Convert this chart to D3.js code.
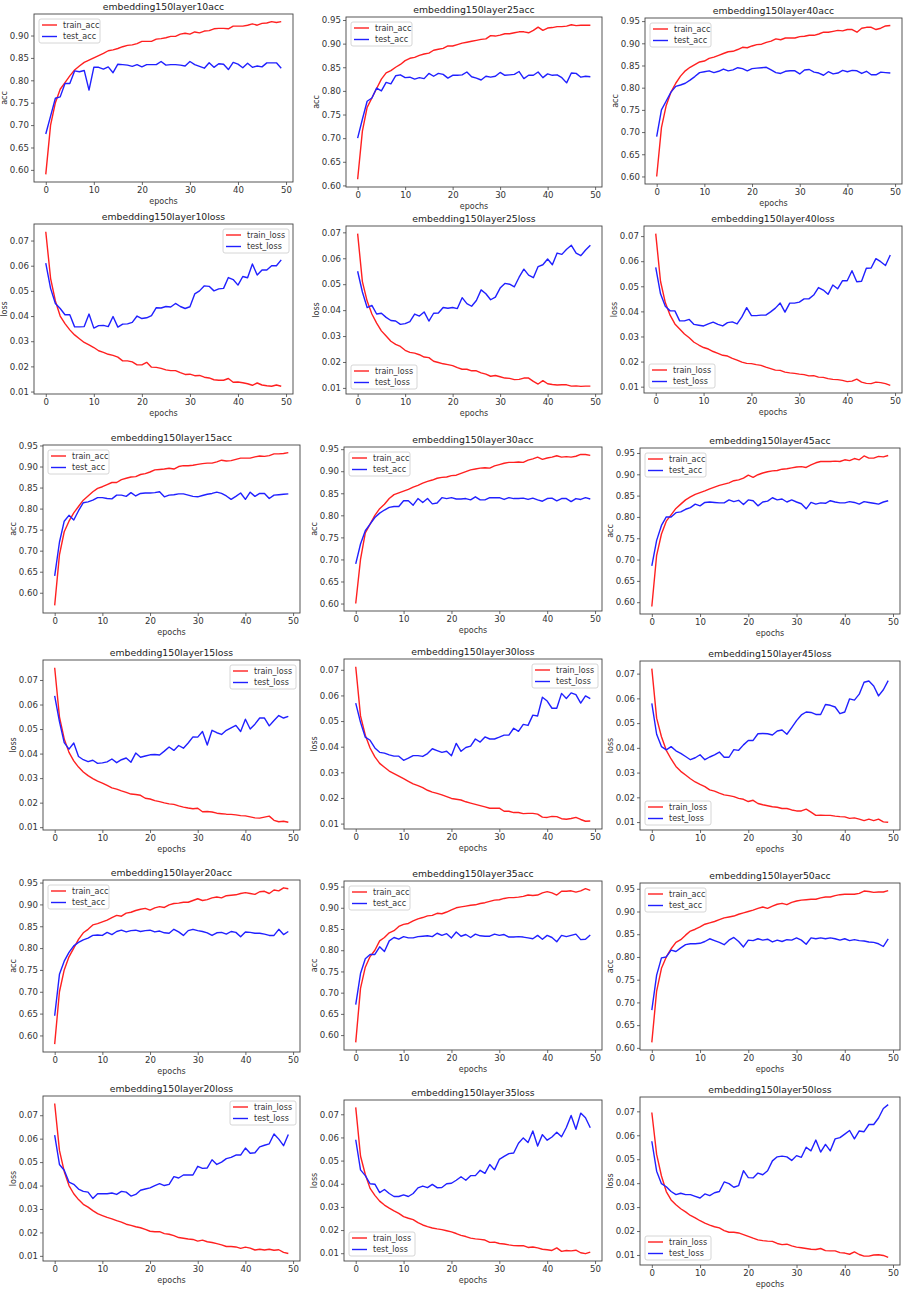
<!DOCTYPE html>
<html lang="en">
<head>
<meta charset="UTF-8">
<title>embedding150 layer acc / loss</title>
<script src="https://d3js.org/d3.v7.min.js"></script>
<style>
    body { margin: 0; background: #fff; }
    svg { display: block; font-family: "DejaVu Sans", sans-serif; }
    .frame { fill: none; stroke: #444; stroke-width: 0.9; }
    .axis .domain { display: none; }
    .axis line { stroke: #444; stroke-width: 0.8; }
    .axis text { fill: #333; font-size: 8.6px; font-family: "DejaVu Sans", sans-serif; }
    .title { font-size: 9.3px; fill: #222; text-anchor: middle; }
    .axis-label { font-size: 8px; fill: #333; text-anchor: middle; }
    .legend-box { fill: #fff; stroke: #ccc; stroke-width: 0.8; }
    .legend text { font-size: 8px; fill: #333; }
    .series { fill: none; stroke-width: 1.4; stroke-linejoin: round; }
</style>
</head>
<body>
<svg id="chart" width="906" height="1291"></svg>
<script>
// 軸の目盛り
const epochTicks = [0, 10, 20, 30, 40, 50];
const accTicks = [0.60, 0.65, 0.70, 0.75, 0.80, 0.85, 0.90, 0.95];
const lossTicks = [0.01, 0.02, 0.03, 0.04, 0.05, 0.06, 0.07];
const epochs = d3.range(50);

// layer10
const train_acc_10 = [0.590,0.700,0.750,0.780,0.795,0.810,0.823,0.832,0.840,0.845,
    0.850,0.855,0.860,0.866,0.868,0.871,0.875,0.878,0.879,0.882,
    0.887,0.887,0.887,0.892,0.893,0.895,0.898,0.898,0.903,0.905,
    0.903,0.908,0.906,0.910,0.911,0.915,0.916,0.916,0.915,0.921,
    0.921,0.921,0.923,0.926,0.923,0.927,0.928,0.931,0.929,0.931];
const test_acc_10 = [0.680,0.720,0.760,0.763,0.793,0.793,0.821,0.819,0.822,0.778,
    0.829,0.829,0.825,0.830,0.817,0.836,0.835,0.834,0.831,0.835,
    0.830,0.835,0.835,0.835,0.842,0.834,0.835,0.835,0.834,0.832,
    0.842,0.835,0.831,0.827,0.839,0.829,0.837,0.836,0.824,0.840,
    0.836,0.828,0.838,0.829,0.832,0.830,0.839,0.839,0.839,0.827];
const train_loss_10 = [0.0735,0.0550,0.0460,0.0400,0.0370,0.0345,0.0325,0.0310,0.0295,0.0285,
    0.0275,0.0262,0.0256,0.0248,0.0244,0.0237,0.0222,0.0222,0.0218,0.0206,
    0.0206,0.0216,0.0197,0.0196,0.0192,0.0186,0.0183,0.0183,0.0175,0.0168,
    0.0169,0.0163,0.0164,0.0157,0.0154,0.0147,0.0145,0.0145,0.0152,0.0137,
    0.0138,0.0135,0.0131,0.0125,0.0134,0.0126,0.0123,0.0121,0.0126,0.0121];
const test_loss_10 = [0.0610,0.0510,0.0450,0.0430,0.0405,0.0405,0.0357,0.0357,0.0358,0.0408,
    0.0352,0.0362,0.0363,0.0358,0.0398,0.0356,0.0368,0.0369,0.0375,0.0400,
    0.0390,0.0393,0.0402,0.0433,0.0432,0.0438,0.0436,0.0450,0.0438,0.0430,
    0.0437,0.0488,0.0500,0.0520,0.0518,0.0500,0.0508,0.0510,0.0553,0.0545,
    0.0523,0.0557,0.0552,0.0607,0.0563,0.0583,0.0583,0.0600,0.0600,0.0623];

// layer15
const train_acc_15 = [0.570,0.690,0.745,0.770,0.790,0.805,0.820,0.830,0.840,0.848,
    0.852,0.857,0.862,0.862,0.869,0.872,0.875,0.876,0.881,0.883,
    0.887,0.892,0.893,0.894,0.896,0.894,0.900,0.902,0.902,0.903,
    0.905,0.907,0.908,0.908,0.911,0.915,0.913,0.914,0.917,0.920,
    0.920,0.920,0.923,0.925,0.924,0.926,0.930,0.930,0.931,0.933];
const test_acc_15 = [0.640,0.720,0.770,0.784,0.773,0.795,0.814,0.816,0.820,0.826,
    0.826,0.824,0.823,0.832,0.832,0.829,0.838,0.830,0.836,0.837,
    0.837,0.838,0.840,0.828,0.832,0.833,0.835,0.835,0.832,0.829,
    0.828,0.831,0.834,0.836,0.839,0.836,0.830,0.822,0.829,0.837,
    0.822,0.839,0.829,0.836,0.836,0.824,0.832,0.833,0.834,0.835];
const train_loss_15 = [0.0750,0.0550,0.0460,0.0405,0.0370,0.0345,0.0325,0.0310,0.0298,0.0288,
    0.0280,0.0270,0.0260,0.0255,0.0248,0.0242,0.0235,0.0233,0.0230,0.0218,
    0.0215,0.0208,0.0204,0.0199,0.0195,0.0193,0.0187,0.0182,0.0178,0.0175,
    0.0177,0.0163,0.0164,0.0162,0.0157,0.0155,0.0153,0.0152,0.0150,0.0147,
    0.0146,0.0142,0.0138,0.0137,0.0141,0.0145,0.0128,0.0122,0.0124,0.0120];
const test_loss_15 = [0.0635,0.0530,0.0445,0.0418,0.0443,0.0388,0.0375,0.0367,0.0373,0.0360,
    0.0362,0.0366,0.0378,0.0363,0.0375,0.0382,0.0365,0.0402,0.0385,0.0390,
    0.0395,0.0396,0.0394,0.0410,0.0427,0.0413,0.0433,0.0422,0.0443,0.0468,
    0.0467,0.0490,0.0435,0.0495,0.0485,0.0478,0.0495,0.0505,0.0515,0.0490,
    0.0540,0.0500,0.0520,0.0545,0.0545,0.0513,0.0535,0.0555,0.0545,0.0552];

// layer20
const train_acc_20 = [0.580,0.700,0.750,0.780,0.800,0.820,0.835,0.843,0.853,0.856,
    0.860,0.864,0.870,0.875,0.873,0.880,0.882,0.886,0.889,0.891,
    0.887,0.892,0.895,0.893,0.899,0.902,0.903,0.905,0.905,0.909,
    0.913,0.909,0.911,0.915,0.917,0.915,0.920,0.921,0.922,0.925,
    0.927,0.925,0.923,0.929,0.930,0.925,0.933,0.931,0.938,0.936];
const test_acc_20 = [0.645,0.740,0.770,0.790,0.805,0.813,0.819,0.823,0.829,0.830,
    0.829,0.836,0.831,0.838,0.841,0.837,0.840,0.841,0.838,0.840,
    0.841,0.837,0.839,0.835,0.834,0.843,0.837,0.829,0.840,0.843,
    0.840,0.838,0.835,0.829,0.835,0.836,0.832,0.838,0.836,0.826,
    0.837,0.836,0.834,0.834,0.832,0.829,0.829,0.843,0.831,0.838];
const train_loss_20 = [0.0750,0.0550,0.0460,0.0400,0.0365,0.0340,0.0320,0.0308,0.0293,0.0280,
    0.0272,0.0264,0.0258,0.0250,0.0244,0.0235,0.0230,0.0224,0.0220,0.0213,
    0.0205,0.0203,0.0203,0.0195,0.0192,0.0186,0.0178,0.0175,0.0172,0.0170,
    0.0163,0.0167,0.0160,0.0157,0.0152,0.0147,0.0140,0.0140,0.0138,0.0132,
    0.0137,0.0133,0.0125,0.0128,0.0125,0.0128,0.0124,0.0126,0.0115,0.0110];
const test_loss_20 = [0.0615,0.0490,0.0465,0.0415,0.0405,0.0385,0.0375,0.0372,0.0345,0.0365,
    0.0365,0.0365,0.0368,0.0362,0.0375,0.0372,0.0355,0.0362,0.0380,0.0385,
    0.0390,0.0400,0.0408,0.0400,0.0405,0.0438,0.0432,0.0445,0.0445,0.0445,
    0.0482,0.0473,0.0475,0.0510,0.0490,0.0500,0.0515,0.0520,0.0530,0.0530,
    0.0560,0.0538,0.0540,0.0565,0.0572,0.0578,0.0620,0.0598,0.0570,0.0618];

// layer25
const train_acc_25 = [0.613,0.715,0.765,0.785,0.805,0.825,0.838,0.843,0.850,0.856,
    0.864,0.869,0.871,0.875,0.878,0.880,0.886,0.888,0.890,0.895,
    0.895,0.898,0.901,0.903,0.905,0.907,0.909,0.910,0.917,0.916,
    0.918,0.921,0.921,0.923,0.925,0.925,0.923,0.928,0.935,0.928,
    0.933,0.934,0.936,0.936,0.937,0.940,0.938,0.939,0.939,0.939];
const test_acc_25 = [0.700,0.740,0.778,0.785,0.806,0.800,0.818,0.815,0.832,0.834,
    0.828,0.829,0.825,0.828,0.826,0.837,0.831,0.837,0.835,0.827,
    0.833,0.833,0.834,0.840,0.830,0.827,0.823,0.831,0.829,0.831,
    0.839,0.833,0.834,0.835,0.841,0.826,0.833,0.833,0.840,0.828,
    0.836,0.833,0.834,0.828,0.817,0.838,0.837,0.829,0.831,0.830];
const train_loss_25 = [0.0695,0.0510,0.0435,0.0385,0.0350,0.0320,0.0300,0.0280,0.0268,0.0260,
    0.0245,0.0237,0.0234,0.0228,0.0219,0.0217,0.0203,0.0198,0.0193,0.0190,
    0.0186,0.0178,0.0172,0.0172,0.0166,0.0166,0.0158,0.0153,0.0145,0.0148,
    0.0143,0.0138,0.0137,0.0132,0.0133,0.0138,0.0138,0.0125,0.0115,0.0128,
    0.0116,0.0113,0.0111,0.0112,0.0112,0.0107,0.0108,0.0106,0.0107,0.0107];
const test_loss_25 = [0.0550,0.0470,0.0410,0.0418,0.0385,0.0388,0.0372,0.0360,0.0358,0.0345,
    0.0348,0.0356,0.0385,0.0377,0.0393,0.0358,0.0388,0.0389,0.0410,0.0407,
    0.0410,0.0406,0.0448,0.0425,0.0415,0.0437,0.0478,0.0463,0.0440,0.0450,
    0.0485,0.0503,0.0500,0.0490,0.0527,0.0558,0.0535,0.0525,0.0568,0.0575,
    0.0597,0.0575,0.0620,0.0615,0.0635,0.0650,0.0620,0.0610,0.0632,0.0650];

// layer30
const train_acc_30 = [0.600,0.700,0.760,0.780,0.800,0.815,0.825,0.838,0.847,0.851,
    0.855,0.859,0.864,0.868,0.873,0.877,0.880,0.884,0.886,0.887,
    0.890,0.891,0.895,0.899,0.903,0.905,0.907,0.908,0.907,0.912,
    0.915,0.918,0.920,0.920,0.921,0.920,0.925,0.928,0.932,0.927,
    0.930,0.932,0.935,0.932,0.933,0.932,0.934,0.938,0.938,0.936];
const test_acc_30 = [0.690,0.735,0.765,0.780,0.795,0.805,0.812,0.818,0.820,0.820,
    0.833,0.833,0.823,0.838,0.829,0.838,0.826,0.828,0.840,0.838,
    0.840,0.837,0.837,0.838,0.835,0.842,0.835,0.835,0.840,0.840,
    0.840,0.836,0.840,0.838,0.838,0.839,0.836,0.839,0.835,0.832,
    0.838,0.839,0.833,0.838,0.838,0.831,0.838,0.836,0.840,0.837];
const train_loss_30 = [0.0712,0.0520,0.0445,0.0395,0.0360,0.0335,0.0320,0.0305,0.0295,0.0285,
    0.0275,0.0265,0.0255,0.0248,0.0240,0.0230,0.0223,0.0218,0.0212,0.0205,
    0.0198,0.0195,0.0192,0.0185,0.0180,0.0175,0.0170,0.0165,0.0160,0.0160,
    0.0160,0.0148,0.0148,0.0143,0.0143,0.0139,0.0140,0.0140,0.0137,0.0125,
    0.0124,0.0128,0.0127,0.0119,0.0117,0.0120,0.0124,0.0116,0.0109,0.0110];
const test_loss_30 = [0.0570,0.0495,0.0437,0.0425,0.0395,0.0378,0.0375,0.0368,0.0363,0.0363,
    0.0347,0.0355,0.0365,0.0365,0.0362,0.0373,0.0392,0.0385,0.0378,0.0382,
    0.0365,0.0413,0.0382,0.0397,0.0402,0.0430,0.0418,0.0438,0.0430,0.0430,
    0.0437,0.0445,0.0445,0.0472,0.0460,0.0487,0.0483,0.0523,0.0520,0.0593,
    0.0578,0.0550,0.0550,0.0608,0.0588,0.0610,0.0603,0.0570,0.0598,0.0588];

// layer35
const train_acc_35 = [0.583,0.710,0.760,0.785,0.800,0.822,0.830,0.841,0.846,0.856,
    0.861,0.863,0.869,0.874,0.877,0.881,0.882,0.887,0.886,0.890,
    0.895,0.900,0.902,0.904,0.906,0.907,0.910,0.912,0.915,0.918,
    0.919,0.922,0.924,0.924,0.925,0.927,0.930,0.929,0.930,0.935,
    0.938,0.935,0.930,0.939,0.939,0.940,0.937,0.940,0.945,0.941];
const test_acc_35 = [0.672,0.745,0.780,0.790,0.790,0.808,0.797,0.822,0.830,0.826,
    0.832,0.829,0.829,0.832,0.833,0.834,0.832,0.840,0.835,0.839,
    0.829,0.843,0.833,0.837,0.830,0.838,0.834,0.833,0.833,0.838,
    0.835,0.837,0.831,0.831,0.832,0.831,0.829,0.827,0.835,0.826,
    0.835,0.830,0.820,0.835,0.832,0.835,0.838,0.825,0.826,0.836];
const train_loss_35 = [0.0730,0.0520,0.0440,0.0380,0.0350,0.0325,0.0308,0.0295,0.0283,0.0272,
    0.0258,0.0251,0.0245,0.0232,0.0222,0.0215,0.0209,0.0205,0.0202,0.0197,
    0.0192,0.0185,0.0177,0.0172,0.0165,0.0162,0.0160,0.0157,0.0147,0.0148,
    0.0142,0.0140,0.0136,0.0133,0.0132,0.0133,0.0125,0.0127,0.0123,0.0117,
    0.0115,0.0112,0.0123,0.0108,0.0112,0.0110,0.0113,0.0102,0.0098,0.0105];
const test_loss_35 = [0.0590,0.0460,0.0435,0.0400,0.0398,0.0362,0.0375,0.0358,0.0345,0.0345,
    0.0352,0.0345,0.0358,0.0382,0.0390,0.0383,0.0397,0.0383,0.0384,0.0400,
    0.0402,0.0415,0.0430,0.0415,0.0435,0.0435,0.0458,0.0445,0.0483,0.0460,
    0.0505,0.0518,0.0530,0.0533,0.0575,0.0598,0.0578,0.0628,0.0563,0.0612,
    0.0588,0.0602,0.0622,0.0603,0.0643,0.0695,0.0635,0.0705,0.0685,0.0642];

// layer40
const train_acc_40 = [0.600,0.710,0.760,0.790,0.810,0.826,0.838,0.846,0.852,0.858,
    0.860,0.866,0.869,0.873,0.877,0.881,0.882,0.886,0.891,0.890,
    0.894,0.897,0.898,0.902,0.905,0.910,0.908,0.912,0.912,0.912,
    0.915,0.916,0.918,0.918,0.921,0.925,0.925,0.927,0.929,0.928,
    0.931,0.931,0.925,0.934,0.936,0.936,0.931,0.934,0.939,0.940];
const test_acc_40 = [0.690,0.750,0.770,0.790,0.803,0.806,0.810,0.817,0.825,0.834,
    0.836,0.838,0.834,0.837,0.842,0.838,0.840,0.845,0.843,0.838,
    0.843,0.844,0.845,0.846,0.840,0.834,0.832,0.837,0.838,0.838,
    0.831,0.840,0.841,0.835,0.833,0.828,0.836,0.831,0.833,0.839,
    0.836,0.839,0.838,0.832,0.837,0.829,0.829,0.835,0.834,0.833];
const train_loss_40 = [0.0710,0.0520,0.0435,0.0385,0.0350,0.0330,0.0310,0.0295,0.0277,0.0266,
    0.0256,0.0250,0.0240,0.0233,0.0225,0.0222,0.0213,0.0206,0.0198,0.0193,
    0.0192,0.0188,0.0185,0.0178,0.0172,0.0166,0.0165,0.0158,0.0155,0.0153,
    0.0150,0.0148,0.0143,0.0144,0.0138,0.0137,0.0132,0.0129,0.0128,0.0125,
    0.0120,0.0122,0.0130,0.0118,0.0113,0.0112,0.0118,0.0116,0.0112,0.0105];
const test_loss_40 = [0.0575,0.0470,0.0420,0.0402,0.0402,0.0362,0.0362,0.0368,0.0348,0.0345,
    0.0342,0.0350,0.0357,0.0348,0.0342,0.0355,0.0358,0.0350,0.0378,0.0415,
    0.0383,0.0383,0.0385,0.0385,0.0398,0.0413,0.0433,0.0397,0.0433,0.0433,
    0.0437,0.0450,0.0450,0.0465,0.0495,0.0485,0.0468,0.0505,0.0490,0.0522,
    0.0522,0.0562,0.0518,0.0520,0.0572,0.0573,0.0610,0.0598,0.0583,0.0625];

// layer45
const train_acc_45 = [0.590,0.710,0.760,0.790,0.805,0.820,0.830,0.840,0.847,0.853,
    0.857,0.861,0.866,0.870,0.874,0.877,0.880,0.885,0.887,0.891,
    0.898,0.893,0.899,0.903,0.906,0.908,0.909,0.912,0.913,0.915,
    0.917,0.918,0.916,0.922,0.927,0.930,0.930,0.930,0.931,0.930,
    0.934,0.932,0.937,0.934,0.943,0.938,0.938,0.942,0.941,0.944];
const test_acc_45 = [0.685,0.745,0.780,0.800,0.800,0.810,0.812,0.818,0.822,0.830,
    0.826,0.834,0.835,0.834,0.833,0.833,0.840,0.836,0.839,0.829,
    0.840,0.838,0.826,0.835,0.837,0.845,0.840,0.842,0.835,0.840,
    0.835,0.831,0.819,0.834,0.830,0.833,0.832,0.838,0.835,0.833,
    0.833,0.836,0.834,0.830,0.836,0.834,0.832,0.830,0.835,0.838];
const train_loss_45 = [0.0720,0.0520,0.0445,0.0390,0.0355,0.0325,0.0305,0.0290,0.0275,0.0262,
    0.0252,0.0243,0.0230,0.0225,0.0217,0.0210,0.0207,0.0203,0.0196,0.0192,
    0.0183,0.0188,0.0175,0.0170,0.0166,0.0162,0.0160,0.0155,0.0155,0.0149,
    0.0145,0.0145,0.0152,0.0140,0.0127,0.0128,0.0127,0.0127,0.0124,0.0122,
    0.0121,0.0115,0.0117,0.0112,0.0106,0.0112,0.0106,0.0112,0.0101,0.0099];
const test_loss_45 = [0.0580,0.0455,0.0405,0.0392,0.0405,0.0388,0.0378,0.0365,0.0352,0.0360,
    0.0372,0.0352,0.0363,0.0372,0.0383,0.0362,0.0362,0.0393,0.0390,0.0412,
    0.0430,0.0430,0.0457,0.0458,0.0457,0.0452,0.0468,0.0472,0.0455,0.0482,
    0.0510,0.0533,0.0545,0.0543,0.0535,0.0535,0.0575,0.0572,0.0565,0.0538,
    0.0545,0.0598,0.0593,0.0617,0.0665,0.0670,0.0650,0.0610,0.0635,0.0672];

// layer50
const train_acc_50 = [0.612,0.725,0.775,0.800,0.818,0.832,0.838,0.848,0.857,0.861,
    0.866,0.872,0.875,0.878,0.882,0.886,0.888,0.890,0.894,0.897,
    0.900,0.903,0.907,0.910,0.907,0.912,0.916,0.918,0.915,0.920,
    0.923,0.925,0.926,0.927,0.927,0.930,0.932,0.932,0.935,0.937,
    0.938,0.938,0.938,0.940,0.945,0.944,0.942,0.943,0.943,0.946];
const test_acc_50 = [0.683,0.760,0.798,0.800,0.815,0.812,0.820,0.827,0.829,0.829,
    0.830,0.834,0.840,0.836,0.832,0.827,0.837,0.843,0.834,0.822,
    0.837,0.836,0.840,0.837,0.839,0.833,0.837,0.834,0.838,0.837,
    0.842,0.837,0.828,0.842,0.840,0.842,0.840,0.842,0.840,0.837,
    0.840,0.836,0.838,0.836,0.835,0.833,0.832,0.829,0.823,0.840];
const train_loss_50 = [0.0695,0.0520,0.0430,0.0365,0.0330,0.0310,0.0293,0.0280,0.0265,0.0255,
    0.0243,0.0233,0.0225,0.0218,0.0213,0.0202,0.0195,0.0195,0.0192,0.0185,
    0.0178,0.0170,0.0163,0.0160,0.0158,0.0157,0.0148,0.0143,0.0145,0.0138,
    0.0133,0.0130,0.0127,0.0124,0.0123,0.0127,0.0118,0.0117,0.0117,0.0110,
    0.0108,0.0103,0.0113,0.0102,0.0095,0.0095,0.0100,0.0101,0.0098,0.0090];
const test_loss_50 = [0.0575,0.0450,0.0398,0.0385,0.0365,0.0352,0.0358,0.0352,0.0352,0.0345,
    0.0338,0.0355,0.0348,0.0360,0.0365,0.0405,0.0398,0.0383,0.0390,0.0452,
    0.0423,0.0422,0.0442,0.0435,0.0452,0.0493,0.0510,0.0513,0.0510,0.0495,
    0.0515,0.0508,0.0550,0.0535,0.0580,0.0530,0.0562,0.0535,0.0585,0.0590,
    0.0605,0.0620,0.0585,0.0618,0.0615,0.0645,0.0645,0.0672,0.0712,0.0728];

// パネルの配置（画像上のフレーム位置: 左, 上, 右, 下）と凡例の場所
const panels = [
    { title: "embedding150layer10acc",  kind: "acc",  train: train_acc_10,  test: test_acc_10,  legend: "ul", box: [34, 14, 293, 182] },
    { title: "embedding150layer25acc",  kind: "acc",  train: train_acc_25,  test: test_acc_25,  legend: "ul", box: [346, 17, 602, 187] },
    { title: "embedding150layer40acc",  kind: "acc",  train: train_acc_40,  test: test_acc_40,  legend: "ul", box: [645, 18, 902, 184] },
    { title: "embedding150layer10loss", kind: "loss", train: train_loss_10, test: test_loss_10, legend: "ur", box: [34, 224, 293, 394] },
    { title: "embedding150layer25loss", kind: "loss", train: train_loss_25, test: test_loss_25, legend: "ll", box: [346, 226, 602, 394] },
    { title: "embedding150layer40loss", kind: "loss", train: train_loss_40, test: test_loss_40, legend: "ll", box: [644, 226, 902, 393] },
    { title: "embedding150layer15acc",  kind: "acc",  train: train_acc_15,  test: test_acc_15,  legend: "ul", box: [43, 445, 300, 613] },
    { title: "embedding150layer30acc",  kind: "acc",  train: train_acc_30,  test: test_acc_30,  legend: "ul", box: [344, 447, 602, 611] },
    { title: "embedding150layer45acc",  kind: "acc",  train: train_acc_45,  test: test_acc_45,  legend: "ul", box: [640, 448, 900, 614] },
    { title: "embedding150layer15loss", kind: "loss", train: train_loss_15, test: test_loss_15, legend: "ur", box: [43, 660, 300, 830] },
    { title: "embedding150layer30loss", kind: "loss", train: train_loss_30, test: test_loss_30, legend: "ur", box: [344, 659, 602, 829] },
    { title: "embedding150layer45loss", kind: "loss", train: train_loss_45, test: test_loss_45, legend: "ll", box: [640, 661, 900, 830] },
    { title: "embedding150layer20acc",  kind: "acc",  train: train_acc_20,  test: test_acc_20,  legend: "ul", box: [43, 880, 300, 1052] },
    { title: "embedding150layer35acc",  kind: "acc",  train: train_acc_35,  test: test_acc_35,  legend: "ul", box: [344, 881, 602, 1050] },
    { title: "embedding150layer50acc",  kind: "acc",  train: train_acc_50,  test: test_acc_50,  legend: "ul", box: [640, 883, 900, 1050] },
    { title: "embedding150layer20loss", kind: "loss", train: train_loss_20, test: test_loss_20, legend: "ur", box: [43, 1096, 300, 1261] },
    { title: "embedding150layer35loss", kind: "loss", train: train_loss_35, test: test_loss_35, legend: "ll", box: [344, 1100, 602, 1261] },
    { title: "embedding150layer50loss", kind: "loss", train: train_loss_50, test: test_loss_50, legend: "ll", box: [640, 1097, 900, 1265] }
];

const trainColor = "#ff2020";
const testColor = "#2020ff";
const fmtY = d3.format(".2f");

const svg = d3.select("#chart");

panels.forEach(p => {
    const [x0, y0, x1, y1] = p.box;
    const g = svg.append("g");

    // matplotlib 風に 5% の余白
    const x = d3.scaleLinear().domain([-2.45, 51.45]).range([x0, x1]);
    const [lo, hi] = d3.extent(p.train.concat(p.test));
    const pad = (hi - lo) * 0.05;
    const y = d3.scaleLinear().domain([lo - pad, hi + pad]).range([y1, y0]);

    const yTicks = (p.kind === "acc" ? accTicks : lossTicks)
        .filter(v => v >= y.domain()[0] - 1e-9 && v <= y.domain()[1] + 1e-9);

    g.append("g")
        .attr("class", "axis")
        .attr("transform", `translate(0,${y1})`)
        .call(d3.axisBottom(x).tickValues(epochTicks).tickSize(3).tickPadding(2).tickFormat(d3.format("d")));

    g.append("g")
        .attr("class", "axis")
        .attr("transform", `translate(${x0},0)`)
        .call(d3.axisLeft(y).tickValues(yTicks).tickSize(3).tickPadding(2).tickFormat(fmtY));

    const line = d3.line().x((d, i) => x(epochs[i])).y(d => y(d));

    g.append("path").attr("class", "series").attr("stroke", trainColor).attr("d", line(p.train));
    g.append("path").attr("class", "series").attr("stroke", testColor).attr("d", line(p.test));

    g.append("rect").attr("class", "frame")
        .attr("x", x0).attr("y", y0)
        .attr("width", x1 - x0).attr("height", y1 - y0);

    g.append("text").attr("class", "title")
        .attr("x", (x0 + x1) / 2).attr("y", y0 - 4)
        .text(p.title);

    g.append("text").attr("class", "axis-label")
        .attr("x", (x0 + x1) / 2).attr("y", y1 + 22)
        .text("epochs");

    g.append("text").attr("class", "axis-label")
        .attr("transform", `translate(${x0 - 27},${(y0 + y1) / 2}) rotate(-90)`)
        .text(p.kind);

    // 凡例
    const names = ["train_" + p.kind, "test_" + p.kind];
    const colors = [trainColor, testColor];
    const lw = p.kind === "acc" ? 61 : 66, lh = 24;
    let bx, by;
    if (p.legend === "ul") { bx = x0 + 5; by = y0 + 5; }
    else if (p.legend === "ur") { bx = x1 - 4 - lw; by = y0 + 5; }
    else { bx = x0 + 5; by = y1 - 5 - lh; }

    const leg = g.append("g").attr("class", "legend");
    leg.append("rect").attr("class", "legend-box")
        .attr("x", bx).attr("y", by).attr("width", lw).attr("height", lh).attr("rx", 2);
    names.forEach((n, i) => {
        const ly = by + 6 + i * 11.5;
        leg.append("line")
            .attr("x1", bx + 3).attr("x2", bx + 18)
            .attr("y1", ly).attr("y2", ly)
            .attr("stroke", colors[i]).attr("stroke-width", 1.4);
        leg.append("text")
            .attr("x", bx + 24).attr("y", ly).attr("dy", "0.35em")
            .text(n);
    });
});
</script>
</body>
</html>
